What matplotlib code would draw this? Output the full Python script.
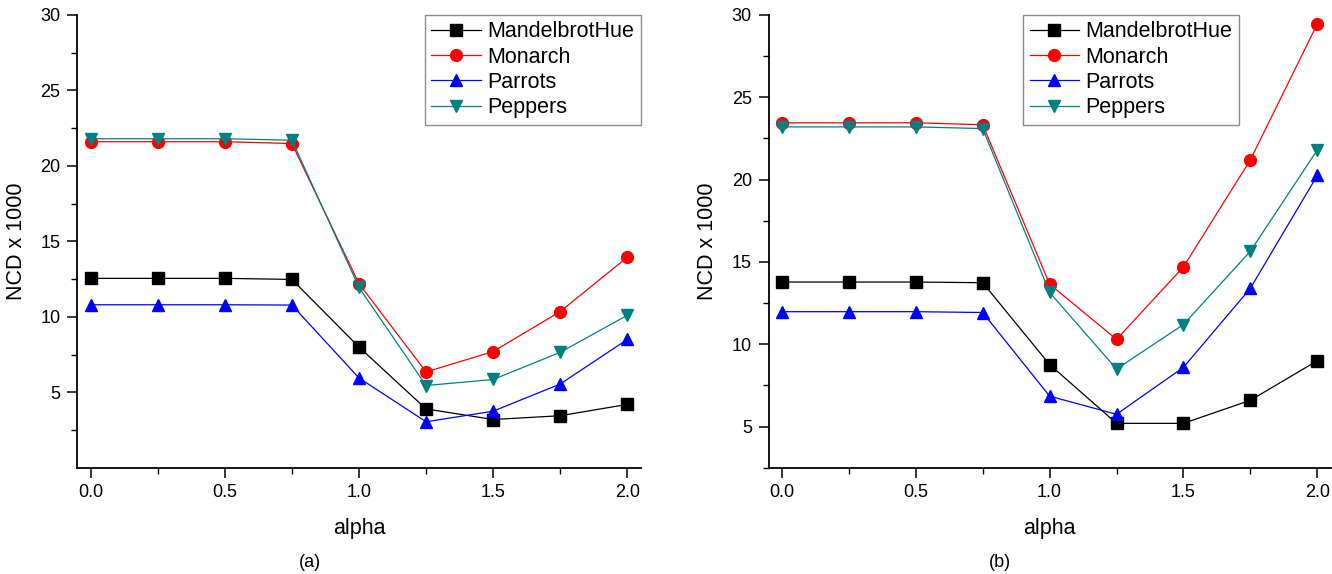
from matplotlib import pyplot as plt
import numpy as np

plt.rcParams['font.family'] = ['Liberation Sans', 'DejaVu Sans']

alpha = [0.0, 0.25, 0.5, 0.75, 1.0, 1.25, 1.5, 1.75, 2.0]
names = ['MandelbrotHue', 'Monarch', 'Parrots', 'Peppers']

# panel (a)
mandel_a  = [12.55, 12.55, 12.55, 12.48, 8.0, 3.9, 3.2, 3.45, 4.2]
monarch_a = [21.6, 21.6, 21.6, 21.48, 12.2, 6.35, 7.7, 10.35, 13.95]
parrots_a = [10.8, 10.8, 10.8, 10.78, 5.95, 3.05, 3.75, 5.55, 8.5]
peppers_a = [21.8, 21.8, 21.8, 21.7, 11.95, 5.45, 5.85, 7.65, 10.1]

# panel (b)
mandel_b  = [13.78, 13.78, 13.78, 13.74, 8.77, 5.2, 5.2, 6.6, 9.0]
monarch_b = [23.45, 23.45, 23.45, 23.33, 13.65, 10.3, 14.7, 21.2, 29.45]
parrots_b = [11.98, 11.98, 11.98, 11.93, 6.85, 5.75, 8.6, 13.4, 20.25]
peppers_b = [23.2, 23.2, 23.2, 23.1, 13.15, 8.5, 11.2, 15.65, 21.8]

colors  = ['black', 'red', 'blue', '#008080']
markers = ['s', 'o', '^', 'v']

fig = plt.figure(figsize=(13.32, 5.74), dpi=100)


def draw_panel(rect, series, ylo, tag, tag_x, leg_anchor):
    ax = fig.add_axes(rect)
    for vals, name, c, m in zip(series, names, colors, markers):
        ax.plot(alpha, vals, color=c, lw=0.9, marker=m, ms=8.5,
                markerfacecolor=c, markeredgecolor=c, label=name)
    ax.set_xlim(-0.05, 2.05)
    ax.set_ylim(ylo, 30)
    ax.set_xticks([0.0, 0.5, 1.0, 1.5, 2.0])
    ax.set_xticklabels(['0.0', '0.5', '1.0', '1.5', '2.0'])
    ax.set_xticks([0.25, 0.75, 1.25, 1.75], minor=True)
    ax.set_yticks([5, 10, 15, 20, 25, 30])
    ax.set_yticks([2.5, 7.5, 12.5, 17.5, 22.5, 27.5], minor=True)
    ax.spines['top'].set_visible(False)
    ax.spines['right'].set_visible(False)
    ax.spines['left'].set_linewidth(1.3)
    ax.spines['bottom'].set_linewidth(1.3)
    ax.tick_params(which='major', direction='out', length=7, width=1.1,
                   labelsize=13, pad=5)
    ax.tick_params(which='minor', direction='out', length=4, width=1.0)
    ax.set_xlabel('alpha', fontsize=15.5, labelpad=12)
    ax.set_ylabel('NCD x 1000', fontsize=15.5, labelpad=10)
    leg = ax.legend(loc='upper right', bbox_to_anchor=leg_anchor,
                    fontsize=15.5, fancybox=False, edgecolor='#707070',
                    handlelength=2.3, handletextpad=0.3, borderpad=0.3,
                    labelspacing=0.2, borderaxespad=0.0)
    leg.get_frame().set_linewidth(1.0)
    fig.text(tag_x, 0.02, tag, fontsize=13, ha='center', va='center')
    return ax


draw_panel([0.058, 0.185, 0.423, 0.789],
           [mandel_a, monarch_a, parrots_a, peppers_a], 0, '(a)', 0.233,
           (1.0, 1.0))
draw_panel([0.577, 0.185, 0.422, 0.789],
           [mandel_b, monarch_b, parrots_b, peppers_b], 2.5, '(b)', 0.751,
           (0.837, 1.0))

plt.savefig('out.png', dpi=100)
